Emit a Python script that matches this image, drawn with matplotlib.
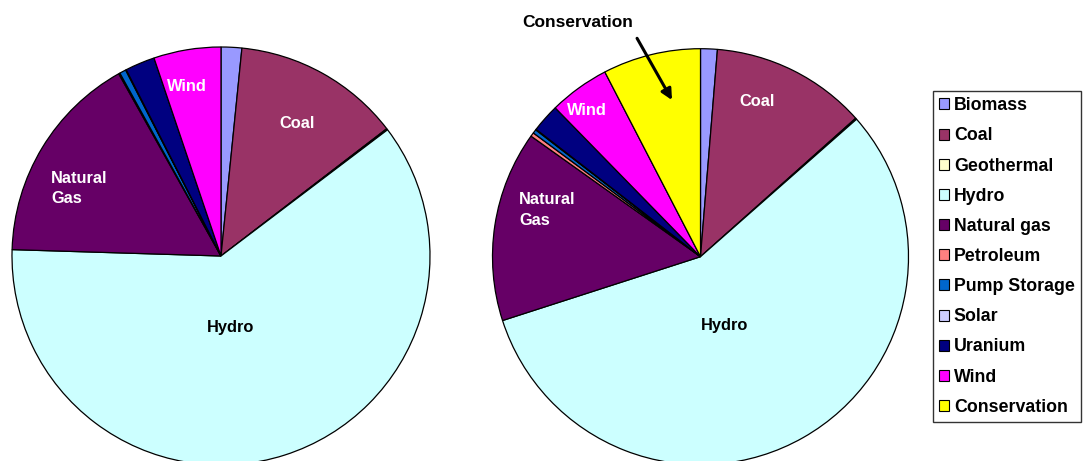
import matplotlib.pyplot as plt
from matplotlib.patches import Patch

plt.rcParams['font.family'] = ['Liberation Sans', 'DejaVu Sans']
plt.rcParams['font.weight'] = 'bold'

sources = ['Biomass', 'Coal', 'Geothermal', 'Hydro', 'Natural gas', 'Petroleum',
           'Pump Storage', 'Solar', 'Uranium', 'Wind', 'Conservation']
colors = ['#9999FF', '#993366', '#FFFFCC', '#CCFFFF', '#660066', '#FF8080',
          '#0066CC', '#CCCCFF', '#000080', '#FF00FF', '#FFFF00']

# share of supply (%)
before = [1.6, 13.0, 0.1, 60.9, 16.4, 0.1, 0.5, 0.05, 2.3, 5.2]
after = [1.3, 12.1, 0.1, 56.5, 14.8, 0.3, 0.3, 0.05, 2.2, 4.7, 7.6]

fig = plt.figure(figsize=(10.85, 4.61), dpi=100)
W, H = 1085, 461


def pie_axes(cx, cy, r):
    ax = fig.add_axes([(cx - r) / W, (H - cy - r) / H, 2 * r / W, 2 * r / H])
    return ax


wp = dict(edgecolor='black', linewidth=0.9)

ax1 = pie_axes(221, 256, 209)
ax1.pie(before, colors=colors[:len(before)], startangle=90, counterclock=False,
        wedgeprops=wp)
ax1.set_xlim(-1, 1)
ax1.set_ylim(-1, 1)
for p in ax1.patches:
    p.set_clip_on(False)
ax1.text(-0.163, 0.813, 'Wind', color='white', fontsize=11.8, ha='center', va='center')
ax1.text(0.364, 0.632, 'Coal', color='white', fontsize=11.8, ha='center', va='center')
ax1.text(-0.813, 0.323, 'Natural\nGas', color='white', fontsize=11.8, ha='left',
         va='center', linespacing=1.45)
ax1.text(0.048, -0.344, 'Hydro', color='black', fontsize=11.8, ha='center', va='center')

ax2 = pie_axes(700.5, 256.7, 208)
wedges, _ = ax2.pie(after, colors=colors, startangle=90, counterclock=False,
                    wedgeprops=wp)
ax2.set_xlim(-1, 1)
ax2.set_ylim(-1, 1)
for p in ax2.patches:
    p.set_clip_on(False)
ax2.text(-0.546, 0.705, 'Wind', color='white', fontsize=11.8, ha='center', va='center')
ax2.text(0.272, 0.744, 'Coal', color='white', fontsize=11.8, ha='center', va='center')
ax2.text(-0.873, 0.225, 'Natural\nGas', color='white', fontsize=11.8, ha='left',
         va='center', linespacing=1.45)
ax2.text(0.118, -0.333, 'Hydro', color='black', fontsize=11.8, ha='center', va='center')
ax2.text(-0.589, 1.128, 'Conservation', fontsize=12.5, ha='center', va='center',
         clip_on=False)
ax2.annotate('', xy=(-0.137, 0.753), xytext=(-0.305, 1.05),
             annotation_clip=False,
             arrowprops=dict(arrowstyle='-|>', color='black', lw=2.2,
                             mutation_scale=16, shrinkA=0, shrinkB=0))

handles = [Patch(facecolor=c, edgecolor='black', linewidth=0.8) for c in colors]
leg = fig.legend(handles, sources, loc='upper left',
                 bbox_to_anchor=(933 / W, 1 - 91 / H), fontsize=12.8,
                 frameon=True, fancybox=False, edgecolor='black',
                 handlelength=0.57, handleheight=0.57, handletextpad=0.25,
                 labelspacing=0.74, borderpad=0.35, borderaxespad=0)
leg.get_frame().set_linewidth(1.0)

fig.savefig('out.png', dpi=100)
